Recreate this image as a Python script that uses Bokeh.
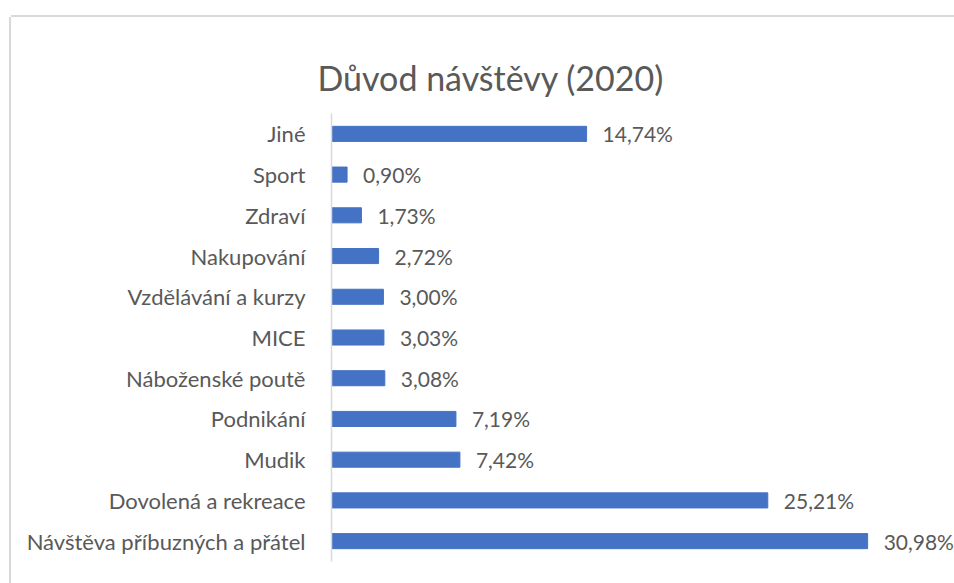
from bokeh.plotting import figure
from bokeh.models import ColumnDataSource, FactorRange, Range1d, Title
from bokeh.core.properties import value
from bokeh.embed import file_html
from bokeh.resources import INLINE

# Data (bottom to top)
categories = ["Návštěva příbuzných a přátel", "Dovolená a rekreace", "Mudik", "Podnikání",
              "Náboženské poutě", "MICE", "Vzdělávání a kurzy", "Nakupování", "Zdraví",
              "Sport", "Jiné"]
shares = [30.98, 25.21, 7.42, 7.19, 3.08, 3.03, 3.00, 2.72, 1.73, 0.90, 14.74]
share_labels = [f"{v:.2f}%".replace(".", ",") for v in shares]
title_text = "Důvod návštěvy (2020)"

BAR = "#4472C4"
TXT = "#595959"
GRID = "#D9D9D9"
FONT = "Lato"

src = ColumnDataSource(dict(cat=categories, val=shares, lab=share_labels))

p = figure(width=943, height=566, output_backend="svg", toolbar_location=None,
           y_range=FactorRange(*categories, range_padding=0),
           x_range=Range1d(0, 36.0), title=None,
           min_border_left=320, min_border_right=0, min_border_top=96, min_border_bottom=22)
p.margin = (17, 0, 0, 11)
p.styles = {"box-shadow": f"0 -2px 0 0 {GRID}, -2px 0 0 0 {GRID}",
            "background-color": "white"}

p.hbar(y="cat", right="val", left=0, height=0.37, source=src, color=BAR)
p.text(x="val", y="cat", text="lab", source=src, x_offset=16,
       text_font=value(FONT), text_font_size="21px", text_color=TXT,
       text_align="left", text_baseline="middle")

p.xaxis.visible = False
p.xgrid.visible = False
p.ygrid.visible = False
p.outline_line_color = None
p.yaxis.major_tick_line_color = None
p.yaxis.minor_tick_line_color = None
p.yaxis.axis_line_color = GRID
p.yaxis.axis_line_width = 1.5
p.yaxis.major_label_standoff = 20
p.yaxis.major_label_text_font = FONT
p.yaxis.major_label_text_font_size = "22px"
p.yaxis.major_label_text_color = TXT

# small spacer panel between the frame and the title
p.add_layout(Title(text=" ", text_font_size="8px", standoff=0), "above")
p.add_layout(Title(text=title_text, align="left", offset=-14,
                   text_font=FONT, text_font_size="34px", text_font_style="normal",
                   text_color=TXT), "above")

open("out.html", "w").write(file_html(p, INLINE))
